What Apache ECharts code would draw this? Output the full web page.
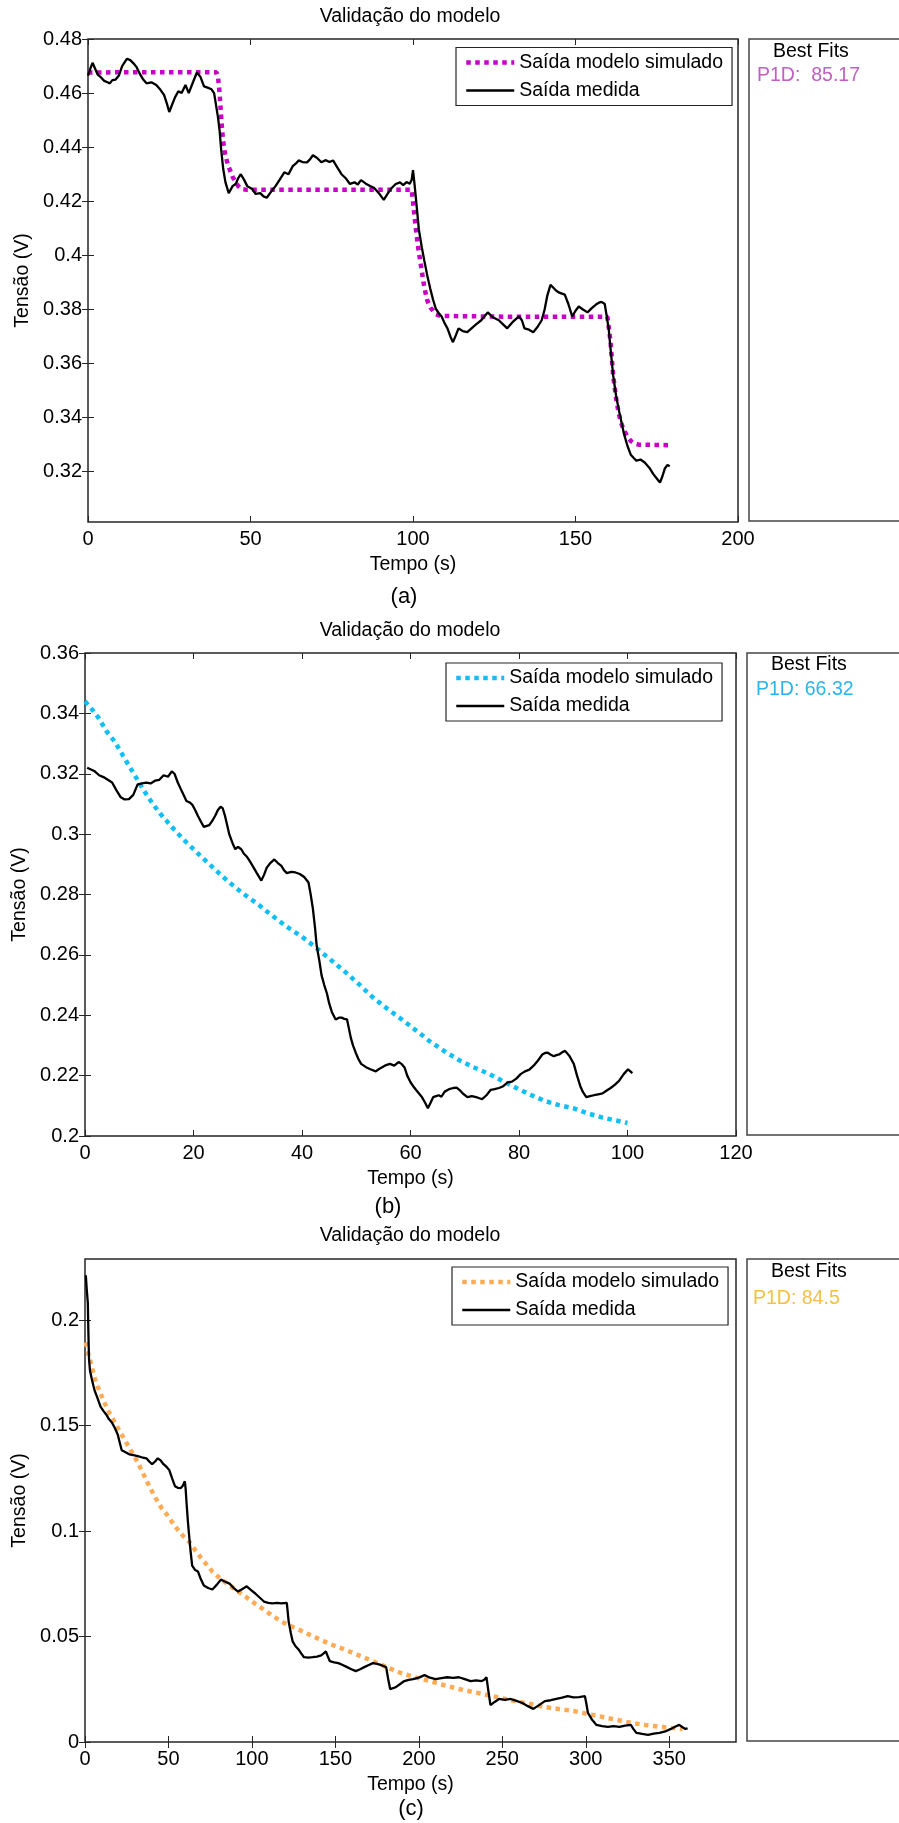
<!DOCTYPE html>
<html>
<head>
<meta charset="utf-8">
<title>Validação do modelo</title>
<script src="https://cdn.jsdelivr.net/npm/echarts@6/dist/echarts.min.js"></script>
<style>
  html, body { margin: 0; padding: 0; background: #fff; }
  #chart { width: 899px; height: 1823px; }
</style>
</head>
<body>
<div id="chart"></div>
<script>
// ---- (a) ----
const timeMedA = [0,0.7,1.4,2.2,3,4,5,6,6.7,7.5,8.5,9.5,10.5,11.5,12,13,14,15,16,17,18,19.5,21,22.3,23.4,24.3,25,25.8,26.8,27.8,28.8,30,31,32.3,33.5,34.6,35.7,36.8,38,38.8,39.3,40,40.5,41,41.6,42.3,43.3,44.5,45.5,46.2,47,48,49,50.5,51.6,53,54,55,56.3,57.7,59,60.4,61.7,63,64,64.8,66,67.4,68.3,69.2,70.5,71.8,73.2,74.3,75.4,76.7,78,79.3,80.6,82,83,84,85.5,86.8,88,89.5,91,92.3,93.5,94.7,96,97,98,99,99.6,100,100.5,101,101.8,102.7,103.5,104.4,105.3,106.2,107,108,108.8,109.7,110.6,111.5,112.3,113.2,114,115.3,116.7,118,119.4,121,122,123,124.7,126.4,127.7,129,130.8,132.6,133.5,134.3,135.7,137,138.3,139.6,140.5,141.3,142.3,143.2,144,145,146.7,147.8,149,150,151,152.3,153.7,155,156.3,157.2,158,159,159.5,160.2,160.9,161.6,162.5,163.4,164.2,165,166,167,168,168.7,170,171.3,172.7,174,175,176,176.8,177.5,178.3,179];
const medA = [0.4665,0.469,0.4712,0.469,0.4668,0.4658,0.4645,0.464,0.4636,0.4648,0.465,0.4665,0.47,0.4718,0.4727,0.4722,0.471,0.4695,0.467,0.465,0.4636,0.464,0.463,0.4612,0.4593,0.456,0.453,0.4555,0.4585,0.4607,0.46,0.463,0.46,0.464,0.4676,0.466,0.4625,0.462,0.4614,0.46,0.4563,0.451,0.446,0.4388,0.432,0.427,0.423,0.4256,0.4265,0.4285,0.43,0.428,0.4256,0.4245,0.4227,0.423,0.4218,0.4213,0.4235,0.4256,0.428,0.4307,0.43,0.433,0.434,0.4351,0.4345,0.4344,0.4355,0.437,0.436,0.4344,0.4352,0.4345,0.4351,0.4325,0.43,0.4285,0.4264,0.427,0.4262,0.4278,0.4265,0.4256,0.425,0.423,0.4205,0.423,0.425,0.4264,0.427,0.426,0.4271,0.4265,0.428,0.4315,0.426,0.4198,0.4096,0.403,0.3979,0.3925,0.3877,0.3835,0.3803,0.3785,0.3774,0.375,0.373,0.37,0.3679,0.3705,0.373,0.372,0.3716,0.373,0.3745,0.376,0.3775,0.3789,0.377,0.376,0.3745,0.373,0.3755,0.3774,0.376,0.373,0.3725,0.3716,0.3735,0.376,0.38,0.385,0.3891,0.388,0.387,0.3862,0.3855,0.382,0.3774,0.3795,0.3811,0.38,0.3789,0.3805,0.3818,0.3825,0.3828,0.382,0.3818,0.373,0.364,0.3555,0.348,0.3424,0.338,0.3336,0.3295,0.3263,0.325,0.3241,0.3245,0.3234,0.3215,0.319,0.3175,0.316,0.3185,0.3212,0.3225,0.322];
const timeSimA = [0,10,20,30,39.5,40,40.5,41,41.5,42,43,43.7,44.5,45.4,46.3,47.2,48.5,55,70,90,99.6,100,100.5,100.9,101.7,102.6,103.5,104.4,105.5,107,108.5,115,130,145,159.8,160.7,161.6,162.5,163.4,164.2,165,166,167,168,169.5,179];
const simA = [0.4676,0.4677,0.4677,0.4677,0.4677,0.466,0.46,0.4505,0.443,0.4385,0.4335,0.4315,0.429,0.4271,0.4255,0.4245,0.4243,0.4243,0.4243,0.4243,0.4243,0.4198,0.414,0.4096,0.402,0.395,0.388,0.3833,0.3805,0.3782,0.3776,0.3775,0.3773,0.3773,0.3773,0.369,0.3555,0.347,0.341,0.3375,0.3351,0.333,0.3314,0.3305,0.33,0.3298];

// ---- (b) ----
const timeMedB = [0.4,1,1.8,2.6,3.4,4.2,5,5.8,6.6,7.3,8.1,8.9,9.7,10.5,11.3,12.1,12.9,13.7,14.5,15.3,16,16.5,17.1,17.9,18.7,19.3,19.8,20.3,20.8,21.4,21.9,22.9,23.5,24,24.5,25,25.4,25.8,26.2,26.6,27.2,27.7,28.2,28.8,29.3,29.8,30.4,30.9,31.7,32.5,33,33.5,34.2,34.9,35.5,36.2,36.7,37.2,38,38.8,39.6,40.4,41.2,41.6,42,42.4,42.7,43.2,43.6,44.1,44.6,45,45.5,46.2,46.8,47.3,47.8,48.3,48.6,49,49.4,49.9,50.4,50.9,51.8,52.6,53.6,54.2,54.7,55.5,56.2,57,57.8,58.4,58.9,59.4,60,60.5,61,61.6,62.1,62.7,63.2,63.7,64.2,64.7,65.2,65.7,66.3,67.1,67.9,68.5,69,69.7,70.5,71.3,72.1,72.7,73.2,74,74.8,75.5,76.3,77.1,77.9,78.7,79.5,80.3,81.1,81.9,82.7,83.5,84.3,84.8,85.3,85.8,86.4,86.9,87.4,88,88.5,89.3,90.1,90.7,91.3,91.8,92.4,93.1,93.8,94.6,95.4,96.1,96.9,97.7,98.5,99.3,100.1,100.9];
const medB = [0.322,0.3215,0.3208,0.3195,0.3189,0.318,0.3171,0.3145,0.3122,0.3115,0.3116,0.313,0.3165,0.3168,0.3171,0.3168,0.3177,0.318,0.3195,0.319,0.3208,0.32,0.3171,0.314,0.311,0.3105,0.3097,0.308,0.3061,0.304,0.3024,0.303,0.3045,0.3061,0.308,0.3091,0.3085,0.3061,0.303,0.2999,0.297,0.295,0.2958,0.295,0.2935,0.2926,0.291,0.2895,0.287,0.2846,0.2865,0.2889,0.2905,0.2916,0.2905,0.2895,0.288,0.2871,0.2875,0.2873,0.2868,0.2858,0.284,0.28,0.2754,0.269,0.2631,0.258,0.2533,0.25,0.2472,0.244,0.2411,0.2386,0.2392,0.2392,0.2388,0.2386,0.236,0.2325,0.23,0.2276,0.2255,0.2239,0.2228,0.2221,0.2214,0.2222,0.2227,0.2235,0.2239,0.2233,0.2245,0.2238,0.2227,0.22,0.2178,0.2165,0.2153,0.214,0.2129,0.211,0.2092,0.211,0.2129,0.2132,0.2135,0.213,0.2147,0.2155,0.2159,0.216,0.2153,0.214,0.2129,0.2132,0.2129,0.2125,0.2122,0.2135,0.2153,0.2155,0.2159,0.2165,0.2178,0.218,0.219,0.2205,0.2214,0.222,0.2233,0.225,0.227,0.2275,0.2276,0.227,0.2264,0.2268,0.227,0.2278,0.2282,0.2265,0.2239,0.22,0.2165,0.2145,0.2129,0.2132,0.2135,0.2138,0.2141,0.215,0.2159,0.217,0.2184,0.2205,0.2221,0.2208];
const timeSimB = [0,1,2.5,4,5.5,7,8.5,10,10.8,12.5,14,16,18,20,21.4,24,26.6,29,32,34.5,37.2,40,42.5,45,47.8,50.5,53,55.7,58.4,61,63.6,66.3,69,71.6,74.2,77,79.5,82.2,84.8,87.4,90,92.7,95.4,97.7,100];
const simB = [0.344,0.342,0.3385,0.334,0.3306,0.326,0.3215,0.317,0.3146,0.31,0.3065,0.3024,0.2985,0.295,0.2926,0.2882,0.284,0.2805,0.2766,0.273,0.2693,0.266,0.2625,0.2588,0.2546,0.2503,0.246,0.2422,0.2386,0.235,0.2313,0.228,0.2251,0.2228,0.2208,0.2182,0.2159,0.2136,0.2116,0.2102,0.2092,0.2075,0.2061,0.2052,0.2043];

// ---- (c) ----
const timeMedC = [0.5,1,1.7,2,2.4,3,4,5,5.8,7.5,9.3,11,12.7,14.4,16.1,17.8,19.6,20.8,22,24,26.5,29,31.6,34,36.8,38.5,40.2,42,43.6,45.3,47,48.8,50.5,52.2,53.9,55.6,57.4,58.6,59.8,60.3,60.8,61.6,62.5,63.3,64.2,66,67.7,69.5,71.2,73.8,76.3,78.9,81.4,84,86.6,89.1,91.7,94.3,96.9,99.5,102,104.6,107.2,109.8,112.3,115,117.5,120.9,122,123.2,124.4,126,127.8,129.5,131.2,133.8,136.4,139,141.5,143,144.3,145.5,146.7,149.3,151.8,154.4,157,159.6,162.2,164.8,167.3,170,172.5,175,177.6,180.4,181.6,182.8,184.5,186.2,188.8,191.3,194,196.5,200,203.4,206.7,210,213.5,217,220.5,224,227.5,231,234.3,237.7,239.2,240.5,241.7,242.9,245.4,248,251.5,255,258.5,262,265.3,268.6,272,275.5,279,282.4,285.8,289.2,292.6,296,299.5,300.4,301.3,303.8,306.4,309.8,313.3,316.7,320.2,323.6,327,328.7,330.4,333.8,337.3,340.7,344.2,347.6,351,353.5,356,358,359.7,361];
const medC = [0.2213,0.215,0.2081,0.195,0.1817,0.176,0.1723,0.169,0.1666,0.163,0.159,0.157,0.1553,0.153,0.1515,0.149,0.1458,0.142,0.1383,0.1375,0.1364,0.136,0.1355,0.135,0.1345,0.133,0.1317,0.133,0.1345,0.1335,0.1317,0.1305,0.1289,0.125,0.1213,0.1205,0.1204,0.1215,0.1236,0.12,0.1138,0.105,0.0968,0.09,0.0836,0.0815,0.0808,0.077,0.0742,0.073,0.0723,0.0745,0.077,0.076,0.0751,0.073,0.0713,0.0725,0.0738,0.072,0.0704,0.0685,0.0666,0.066,0.0657,0.066,0.0657,0.066,0.0572,0.052,0.0477,0.0455,0.044,0.042,0.0402,0.04,0.0402,0.0405,0.0411,0.042,0.043,0.0405,0.0383,0.0378,0.0374,0.0365,0.0355,0.0345,0.0336,0.0345,0.0355,0.0365,0.0374,0.037,0.0364,0.0355,0.03,0.0251,0.0255,0.026,0.0275,0.0289,0.0295,0.0298,0.0305,0.0317,0.0305,0.0298,0.0303,0.0307,0.0304,0.0307,0.0298,0.0289,0.0292,0.0289,0.0295,0.0307,0.024,0.0175,0.019,0.0204,0.02,0.0204,0.0195,0.0185,0.017,0.0157,0.0175,0.0194,0.0198,0.0204,0.021,0.0217,0.0212,0.0213,0.0217,0.018,0.0138,0.0105,0.0081,0.0075,0.0072,0.0075,0.0072,0.0078,0.0081,0.006,0.0043,0.0038,0.0034,0.004,0.0043,0.005,0.0062,0.0072,0.0081,0.007,0.0062,0.0065];
const timeSimC = [0.5,2,4,6,7.6,10,12.7,15,17.9,21,24.7,28,31.6,35,38.5,41,43.6,46,48.8,52,55.6,59,62.5,66,69.4,73,76.3,81,86.6,92,96.9,102,107,112,117.5,122.5,127.8,133,138,146,155,164,172.5,181,189.6,198,206.8,215,224,232.5,241,249.5,258,267,275.5,284,292.7,301,310,318.5,327,335.5,344,351,358];
const simC = [0.1895,0.184,0.178,0.172,0.1685,0.164,0.159,0.1555,0.1515,0.147,0.142,0.1375,0.1326,0.127,0.1213,0.1175,0.1138,0.1108,0.1081,0.1045,0.1006,0.0975,0.0949,0.091,0.0874,0.084,0.0808,0.0775,0.0742,0.0712,0.0685,0.0655,0.0628,0.06,0.0572,0.0552,0.0534,0.0514,0.0496,0.0467,0.044,0.0411,0.0383,0.0354,0.0326,0.0306,0.0289,0.027,0.0251,0.0237,0.0223,0.0208,0.0194,0.018,0.0166,0.0156,0.0147,0.0133,0.0119,0.0105,0.0091,0.0081,0.0072,0.0067,0.0062];

// tick labels
const xTicksA = [0, 50, 100, 150, 200];
const yTicksA = [0.32, 0.34, 0.36, 0.38, 0.4, 0.42, 0.44, 0.46, 0.48];
const xTicksB = [0, 20, 40, 60, 80, 100, 120];
const yTicksB = [0.2, 0.22, 0.24, 0.26, 0.28, 0.3, 0.32, 0.34, 0.36];
const xTicksC = [0, 50, 100, 150, 200, 250, 300, 350];
const yTicksC = [0, 0.05, 0.1, 0.15, 0.2];

const fitNames = ['P1D:  85.17', 'P1D: 66.32', 'P1D: 84.5'];
const captions = ['(a)', '(b)', '(c)'];

const FONT = '"Liberation Sans", Arial, sans-serif';
const AXIS = '#262626';

const zip = (t, v) => t.map((x, i) => [x, v[i]]);

const panels = [
  { left: 88, top: 39, width: 650, height: 483, xMin: 0, xMax: 200, yMin: 0.3014, yMax: 0.48,
    xTicks: xTicksA, yTicks: yTicksA, med: zip(timeMedA, medA), sim: zip(timeSimA, simA),
    simColor: '#c800c8', fitColor: '#c060c0', legend: [456, 47.5], box: 749, titleY: 7,
    caption: [404, 597], bestY: 52, fitY: 76, bestX: 773, fitX: 757 },
  { left: 85, top: 653, width: 651, height: 483, xMin: 0, xMax: 120, yMin: 0.2, yMax: 0.36,
    xTicks: xTicksB, yTicks: yTicksB, med: zip(timeMedB, medB), sim: zip(timeSimB, simB),
    simColor: '#10bff5', fitColor: '#2ab4ee', legend: [446, 663], box: 747, titleY: 621,
    caption: [388, 1207], bestY: 665, fitY: 690, bestX: 771, fitX: 756 },
  { left: 85, top: 1259, width: 651, height: 483, xMin: 0, xMax: 390, yMin: 0, yMax: 0.229,
    xTicks: xTicksC, yTicks: yTicksC, med: zip(timeMedC, medC), sim: zip(timeSimC, simC),
    simColor: '#ffaa55', fitColor: '#f4c040', legend: [452, 1267], box: 747, titleY: 1226,
    caption: [411, 1809], bestY: 1272, fitY: 1299, bestX: 771, fitX: 753 }
];

const fmt = v => String(+(+v).toFixed(3));

const grid = [], xAxis = [], yAxis = [], series = [], legend = [], title = [], graphic = [];

panels.forEach((p, i) => {
  grid.push({ left: p.left, top: p.top, width: p.width, height: p.height, show: true,
    borderColor: AXIS, borderWidth: 1.5, outerBoundsMode: 'none' });

  const tick = vals => ({ show: true, inside: true, length: 6, customValues: vals,
    lineStyle: { color: AXIS, width: 1 } });

  xAxis.push({ type: 'value', gridIndex: i, min: p.xMin, max: p.xMax, position: 'bottom',
    axisLine: { show: false }, splitLine: { show: false }, axisTick: tick(p.xTicks),
    axisLabel: { customValues: p.xTicks, formatter: fmt, color: '#000', fontSize: 20, fontFamily: FONT, margin: 7 },
    name: 'Tempo (s)', nameLocation: 'middle', nameGap: 33,
    nameTextStyle: { color: '#000', fontSize: 19.5, fontFamily: FONT } });
  xAxis.push({ type: 'value', gridIndex: i, min: p.xMin, max: p.xMax, position: 'top',
    axisLine: { show: false }, splitLine: { show: false }, axisTick: tick(p.xTicks),
    axisLabel: { show: false } });

  yAxis.push({ type: 'value', gridIndex: i, min: p.yMin, max: p.yMax, position: 'left',
    axisLine: { show: false }, splitLine: { show: false }, axisTick: tick(p.yTicks),
    axisLabel: { customValues: p.yTicks, formatter: fmt, color: '#000', fontSize: 20, fontFamily: FONT, margin: 6 },
    name: 'Tensão (V)', nameLocation: 'middle', nameGap: 54, nameRotate: 90,
    nameTextStyle: { color: '#000', fontSize: 19.5, fontFamily: FONT } });
  yAxis.push({ type: 'value', gridIndex: i, min: p.yMin, max: p.yMax, position: 'right',
    axisLine: { show: false }, splitLine: { show: false }, axisTick: tick(p.yTicks),
    axisLabel: { show: false } });

  series.push({ name: 'sim' + i, type: 'line', xAxisIndex: 2 * i, yAxisIndex: 2 * i,
    data: p.sim, symbol: 'none', smooth: false, color: p.simColor,
    lineStyle: { color: p.simColor, width: 4.5, type: [4.5, 4.5] } });
  series.push({ name: 'med' + i, type: 'line', xAxisIndex: 2 * i, yAxisIndex: 2 * i,
    data: p.med, symbol: 'none', color: '#000',
    lineStyle: { color: '#000', width: 2.3 } });

  legend.push({ orient: 'vertical', left: p.legend[0], top: p.legend[1],
    data: [
      { name: 'sim' + i, lineStyle: { width: 4.5, type: [4.5, 4.5], color: p.simColor } },
      { name: 'med' + i, lineStyle: { width: 2.5, color: '#000' } }
    ],
    selectedMode: false,
    formatter: n => n.startsWith('sim') ? 'Saída modelo simulado' : 'Saída medida',
    itemWidth: 48, itemHeight: 20, itemGap: 8, padding: [5, 9, 5, 8],
    itemStyle: { opacity: 0, borderWidth: 0 },
    backgroundColor: '#fff', borderColor: AXIS, borderWidth: 1.2, borderRadius: 0,
    textStyle: { color: '#000', fontSize: 19.5, fontFamily: FONT } });

  title.push({ text: 'Validação do modelo', left: 410, top: p.titleY, textAlign: 'center', padding: 0,
    textStyle: { color: '#000', fontSize: 19.5, fontWeight: 'normal', fontFamily: FONT } });

  graphic.push({ type: 'rect', shape: { x: p.box, y: p.top, width: 200, height: p.height - 1 },
    style: { fill: '#fff', stroke: '#444', lineWidth: 1.5 } });
  graphic.push({ type: 'text', x: p.bestX, y: p.bestY,
    style: { text: 'Best Fits', fill: '#000', font: '19.5px ' + FONT, verticalAlign: 'middle' } });
  graphic.push({ type: 'text', x: p.fitX, y: p.fitY,
    style: { text: fitNames[i], fill: p.fitColor, font: '19.5px ' + FONT, verticalAlign: 'middle' } });
  graphic.push({ type: 'text', x: p.caption[0], y: p.caption[1],
    style: { text: captions[i], fill: '#000', font: '22px ' + FONT, align: 'center', verticalAlign: 'middle' } });
});

const chart = echarts.init(document.getElementById('chart'));
chart.setOption({
  animation: false,
  backgroundColor: '#fff',
  title, grid, xAxis, yAxis, legend, series, graphic
});
</script>
</body>
</html>
